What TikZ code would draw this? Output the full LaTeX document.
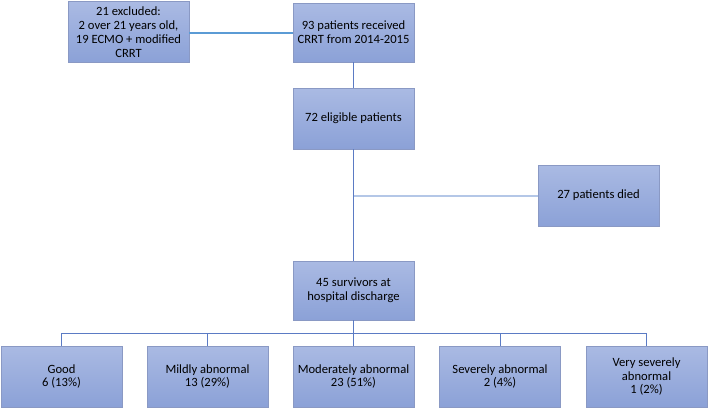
\documentclass[tikz,border=0pt]{standalone}
\usepackage{fontspec}
\setmainfont{Carlito}
\begin{document}
\begin{tikzpicture}[x=1pt,y=-1pt,
  box/.style={draw=boxborder, line width=0.8pt, top color=boxtop, bottom color=boxbot,
    minimum width=121pt, minimum height=60pt, inner sep=2pt, align=center,
    text=black, font=\fontsize{12.6}{13.8}\selectfont},
  link/.style={draw=linkblue, line width=1pt},
]
\definecolor{boxtop}{HTML}{AABAE3}
\definecolor{boxbot}{HTML}{8BA1D7}
\definecolor{boxborder}{HTML}{8A99C4}
\definecolor{linkblue}{HTML}{5B7BC4}
\definecolor{exclblue}{HTML}{5B9BD5}
\definecolor{diedblue}{HTML}{B4C7E7}
\useasboundingbox (0,0) rectangle (708,408);
\node[box, minimum height=61pt] (excl) at (128.5,32) {21 excluded:\\2 over 21 years old,\\19 ECMO + modified\\CRRT};
\node[box, minimum height=59pt] (n93) at (353.5,32.5) {93 patients received\\CRRT from 2014-2015};
\node[box, minimum height=61pt] (n72) at (353.5,118.5) {72 eligible patients};
\node[box, minimum height=61pt] (died) at (598.5,195.5) {27 patients died};
\node[box, minimum height=59pt] (n45) at (353.5,290.5) {45 survivors at\\hospital discharge};
\node[box, minimum height=61pt] (b1) at (61.5,376.5) {Good\\6 (13\%)};
\node[box, minimum height=61pt] (b2) at (207.5,376.5) {Mildly abnormal\\13 (29\%)};
\node[box, minimum height=61pt] (b3) at (353.5,376.5) {Moderately abnormal\\23 (51\%)};
\node[box, minimum height=61pt] (b4) at (500,376.5) {Severely abnormal\\2 (4\%)};
\node[box, minimum height=61pt] (b5) at (646.5,376.5) {Very severely\\abnormal\\1 (2\%)};
\coordinate (split) at (n72.south |- died.west);
\coordinate (bus) at (353.5,333);
\draw[draw=exclblue, line width=2pt] (excl.east |- n93.west) -- (n93.west);
\draw[draw=diedblue, line width=2pt] (split) -- (died.west);
\draw[link] (n93.south) -- (n72.north);
\draw[link] (n72.south) -- (n45.north);
\draw[link] (n45.south) -- (bus);
\draw[link] (bus) -| (b1.north);
\draw[link] (bus) -| (b2.north);
\draw[link] (bus) -- (b3.north);
\draw[link] (bus) -| (b4.north);
\draw[link] (bus) -| (b5.north);
\end{tikzpicture}
\end{document}
